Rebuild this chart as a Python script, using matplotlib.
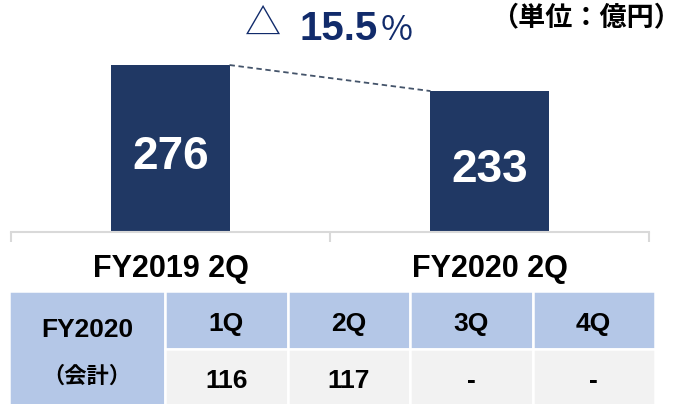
import matplotlib
matplotlib.use("Agg")
import matplotlib.pyplot as plt
from matplotlib.patches import Rectangle
import matplotlib.transforms as mtransforms

# ---- data ----
categories = ["FY2019 2Q", "FY2020 2Q"]
values = [276, 233]
change_pct = "15.5"
unit_label = "（単位：億円）"
row_header = ["FY2020", "（会計）"]
quarters = ["1Q", "2Q", "3Q", "4Q"]
quarter_values = ["116", "117", "-", "-"]

# ---- style ----
W, H = 682, 404
FAM = ["Liberation Sans", "Noto Sans CJK JP", "DejaVu Sans"]
BAR = "#203864"
NAVY = "#112b6b"
AXIS_GRAY = "#d9d9d9"
HEAD_BLUE = "#b4c7e7"
CELL_GRAY = "#f2f2f2"

plt.rcParams["font.family"] = FAM

fig = plt.figure(figsize=(W / 100, H / 100), dpi=100)

# main chart axes (pixel layout)
ax_left, ax_right, ax_bottom, ax_top = 11, 649, 232, 0
ax = fig.add_axes([ax_left / W, 1 - ax_bottom / H,
                   (ax_right - ax_left) / W, (ax_bottom - ax_top) / H])
x = list(range(len(categories)))
bw = 0.37
ax.bar(x, values, width=bw, color=BAR, zorder=1)
ax.set_xlim(-0.5, len(categories) - 0.5)
ax.set_ylim(0, 383.5)
ax.plot([x[0] + bw / 2, x[1] - bw / 2], [values[0], values[1]],
        ls=(0, (3, 2)), color="#44546a", lw=1.3, zorder=2)
for xi, v in zip(x, values):
    ax.annotate(str(v), (xi, v / 2), xytext=(0, -8), textcoords="offset pixels",
                ha="center", va="center", color="white", fontsize=33,
                fontweight="bold")
for s in ["top", "left", "right"]:
    ax.spines[s].set_visible(False)
ax.spines["bottom"].set_color(AXIS_GRAY)
ax.spines["bottom"].set_linewidth(1.5)
ax.set_yticks([])
ax.set_xticks(x)
ax.set_xticklabels([])
ax.tick_params(axis="x", which="major", length=0)
ax.set_xticks([-0.5, 0.5, 1.5], minor=True)
ax.tick_params(axis="x", which="minor", length=7.5, width=1.5,
               color=AXIS_GRAY, direction="out")
ax.patch.set_visible(False)

# overlay axes in pixel coords
ov = fig.add_axes([0, 0, 1, 1])
ov.set_xlim(0, W)
ov.set_ylim(H, 0)
ov.axis("off")
ov.patch.set_visible(False)

blend = mtransforms.blended_transform_factory(ax.transData, ov.transData)
for xi, c in zip(x, categories):
    ov.text(xi, 269, c, transform=blend, ha="center", va="center",
            fontsize=22, fontweight="bold", color="black")

# top texts
ov.text(245, 25, "△", ha="left", va="center", fontsize=26,
        family=["Noto Sans CJK JP"], fontweight="normal", color=NAVY)
ov.text(299, 40, change_pct, ha="left", va="baseline", fontsize=29,
        fontweight="bold", color=NAVY)
ov.text(381, 40, "%", ha="left", va="baseline", fontsize=25,
        family=["Noto Sans CJK JP"], fontweight="normal", color=NAVY)
ov.text(681, 18, unit_label, ha="right", va="center", fontsize=19.5,
        fontweight="bold", color="black")

# table
t_left, t_top, mid, t_bot = 9, 291, 348.5, 420
first_w = 156
col_w = 122.5
ov.add_patch(Rectangle((t_left, t_top), first_w, t_bot - t_top,
                       facecolor=HEAD_BLUE, edgecolor="white", lw=1.8))
cx0 = t_left + first_w / 2
ov.text(cx0, 330, row_header[0], ha="center", va="center", fontsize=19,
        fontweight="bold", color="black")
ov.text(cx0, 377, row_header[1], ha="center", va="center", fontsize=16,
        fontweight="bold", color="black")
for i, (q, qv) in enumerate(zip(quarters, quarter_values)):
    x0 = t_left + first_w + i * col_w
    ov.add_patch(Rectangle((x0, t_top), col_w, mid - t_top,
                           facecolor=HEAD_BLUE, edgecolor="white", lw=1.8))
    ov.add_patch(Rectangle((x0, mid), col_w, t_bot - mid,
                           facecolor=CELL_GRAY, edgecolor="white", lw=1.8))
    ov.text(x0 + col_w / 2, 324, q, ha="center", va="center", fontsize=19,
            fontweight="bold", color="black")
    ov.text(x0 + col_w / 2, 381, qv, ha="center", va="center", fontsize=19,
            fontweight="bold", color="black")

fig.savefig("out.png", dpi=100)
